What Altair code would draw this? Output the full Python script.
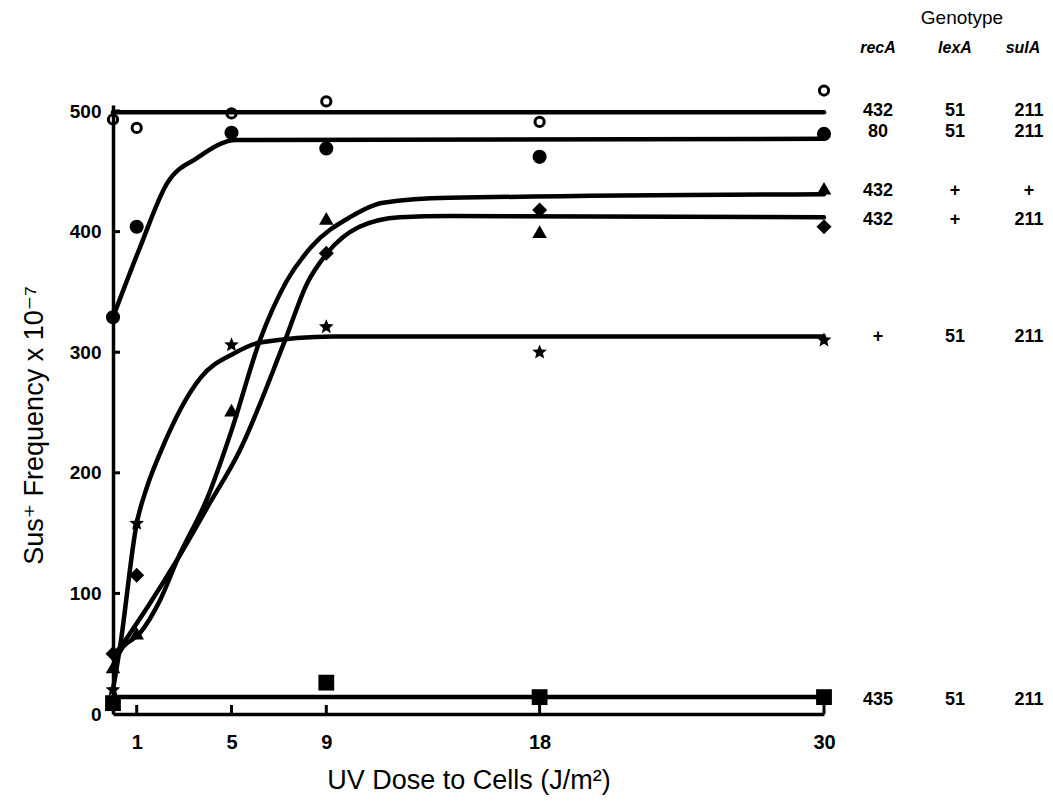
import altair as alt
import pandas as pd

# ---------------- data ----------------
# measured points (UV dose J/m^2, Sus+ frequency x 1e-7)
pt_dose_open = [0, 1, 5, 9, 18, 30]
pt_freq_open = [493, 486, 498, 508, 491, 517]

pt_dose_fill = [0, 1, 5, 9, 18, 30]
pt_freq_fill = [329, 404, 482, 469, 462, 481]

pt_dose_tri = [0, 1, 5, 9, 18, 30]
pt_freq_tri = [39, 67, 252, 411, 400, 436]

pt_dose_dia = [0, 1, 9, 18, 30]
pt_freq_dia = [50, 115, 382, 418, 404]

pt_dose_star = [0, 1, 5, 9, 18, 30]
pt_freq_star = [20, 158, 306, 321, 300, 310]

pt_dose_sq = [0, 9, 18, 30]
pt_freq_sq = [9, 26, 14, 14]

# hand-drawn fitted curves
cv_dose_open = [0, 30]
cv_freq_open = [499, 499]

cv_dose_fill = [0, 1.14, 2.28, 3.54, 5.2, 30]
cv_freq_fill = [329, 387, 440, 461, 476, 477]

cv_dose_tri = [0, 0.3, 1.14, 2, 2.74, 4, 5, 6.2, 7.3, 8.4, 10, 11.4, 14.2, 30]
cv_freq_tri = [39, 52, 67, 95, 129, 180, 235, 310, 358, 388, 412, 424, 428, 431]

cv_dose_dia = [0, 0.3, 0.72, 1.5, 2.74, 4, 5.36, 7.26, 8.19, 9.03, 10.4, 12.1, 14.2, 30]
cv_freq_dia = [50, 55, 67, 90, 129, 172, 219, 310, 357, 382, 404, 412, 413, 412]

cv_dose_star = [0, 0.3, 1, 1.43, 2, 3.7, 5.1, 6.2, 9.3, 30]
cv_freq_star = [20, 56, 158, 188, 217, 279, 299, 308, 313, 313]

cv_dose_sq = [0, 30]
cv_freq_sq = [14, 14]

# genotype table at the right
geno_recA = ["432", "80", "432", "432", "+", "435"]
geno_lexA = ["51", "51", "+", "+", "51", "51"]
geno_sulA = ["211", "211", "+", "211", "211", "211"]
geno_row_freq = [500, 483, 434, 410, 313, 12]

x_tick_values = [1, 5, 9, 18, 30]
y_tick_values = [0, 100, 200, 300, 400, 500]

# ---------------- build tables ----------------
series_names = ["open", "fill", "tri", "dia", "star", "sq"]
pts = {
    "open": (pt_dose_open, pt_freq_open), "fill": (pt_dose_fill, pt_freq_fill),
    "tri": (pt_dose_tri, pt_freq_tri), "dia": (pt_dose_dia, pt_freq_dia),
    "star": (pt_dose_star, pt_freq_star), "sq": (pt_dose_sq, pt_freq_sq),
}
cvs = {
    "open": (cv_dose_open, cv_freq_open), "fill": (cv_dose_fill, cv_freq_fill),
    "tri": (cv_dose_tri, cv_freq_tri), "dia": (cv_dose_dia, cv_freq_dia),
    "star": (cv_dose_star, cv_freq_star), "sq": (cv_dose_sq, cv_freq_sq),
}
pt_rows, cv_rows = [], []
for s in series_names:
    for d, f in zip(*pts[s]):
        pt_rows.append({"series": s, "dose": d, "freq": f})
    for i, (d, f) in enumerate(zip(*cvs[s])):
        cv_rows.append({"series": s, "dose": d, "freq": f, "order": i})
pt_df = pd.DataFrame(pt_rows)
cv_df = pd.DataFrame(cv_rows)
geno_df = pd.DataFrame({"freq": geno_row_freq, "recA": geno_recA,
                        "lexA": geno_lexA, "sulA": geno_sulA})

# ---------------- styling ----------------
W, H = 711, 609
FONT = "Liberation Sans, Arial, DejaVu Sans"
STAR = ("M0,-1L0.2645,-0.364L0.951,-0.309L0.428,0.139L0.588,0.809L0,0.45"
        "L-0.588,0.809L-0.428,0.139L-0.951,-0.309L-0.2645,-0.364Z")

x_scale = alt.Scale(domain=[0, 30], nice=False, zero=False)
y_scale = alt.Scale(domain=[0, 505], nice=False)

x_axis = alt.Axis(values=x_tick_values, title="UV Dose to Cells (J/m²)",
                  labelFont="Liberation Sans Narrow, Liberation Sans", labelFontSize=20,
                  labelFontWeight="bold", labelPadding=18, labelFlush=False,
                  ticks=False, grid=False, domainColor="black", domainWidth=3.5,
                  titleFont=FONT, titleFontSize=27, titleFontWeight="normal",
                  titleY=74, titleBaseline="alphabetic", labelColor="black",
                  titleColor="black")
y_axis = alt.Axis(values=y_tick_values, title="Sus⁺ Frequency x 10⁻⁷",
                  labelFont=FONT, labelFontSize=19, labelFontWeight="bold",
                  labelPadding=12, ticks=False, grid=False, domainColor="black",
                  domainWidth=3.5, titleFont=FONT, titleFontSize=27,
                  titleFontWeight="normal", titleX=-71, titleY=320,
                  titleBaseline="alphabetic", labelColor="black", titleColor="black")

X = alt.X("dose:Q", scale=x_scale, axis=x_axis)
Y = alt.Y("freq:Q", scale=y_scale, axis=y_axis)

lines = alt.Chart(cv_df).mark_line(color="black", strokeWidth=4.5,
                                   interpolate="monotone", strokeCap="round",
                                   strokeJoin="round").encode(
    x=X, y=Y, detail="series:N", order="order:Q")

tick_y = alt.Chart(pd.DataFrame({"freq": y_tick_values[1:]})).mark_rule(
    color="black", strokeWidth=3).encode(y=Y, x=alt.value(0), x2=alt.value(7))
tick_x = alt.Chart(pd.DataFrame({"dose": x_tick_values})).mark_rule(
    color="black", strokeWidth=3).encode(x=X, y=alt.value(H), y2=alt.value(H - 9))

pts_open = alt.Chart(pt_df[pt_df.series == "open"]).mark_point(
    shape="circle", filled=False, color="black", strokeWidth=3, size=85,
    opacity=1).encode(x=X, y=Y)

filled_names = ["fill", "tri", "dia", "star", "sq"]
pts_fill = alt.Chart(pt_df[pt_df.series != "open"]).mark_point(
    filled=True, color="black", opacity=1).encode(
    x=X, y=Y,
    shape=alt.Shape("series:N", scale=alt.Scale(
        domain=filled_names, range=["circle", "triangle-up", "diamond", STAR, "square"]),
        legend=None),
    size=alt.Size("series:N", scale=alt.Scale(
        domain=filled_names, range=[200, 250, 290, 400, 200]), legend=None),
)

COL_X = [765, 842, 916]
txt_style = dict(font=FONT, fontSize=18, fontWeight="bold", color="black",
                 align="center", baseline="middle")
col_recA = alt.Chart(geno_df).mark_text(**txt_style).encode(
    x=alt.value(COL_X[0]), y=Y, text="recA:N")
col_lexA = alt.Chart(geno_df).mark_text(**txt_style).encode(
    x=alt.value(COL_X[1]), y=Y, text="lexA:N")
col_sulA = alt.Chart(geno_df).mark_text(**txt_style).encode(
    x=alt.value(COL_X[2]), y=Y, text="sulA:N")

one = pd.DataFrame({"k": [0]})
hdr_style = dict(font=FONT, fontSize=16, fontWeight="bold", fontStyle="italic",
                 color="black", align="center", baseline="middle")
hdr_recA = alt.Chart(one).mark_text(text="recA", **hdr_style).encode(
    x=alt.value(COL_X[0]), y=alt.value(-57))
hdr_lexA = alt.Chart(one).mark_text(text="lexA", **hdr_style).encode(
    x=alt.value(COL_X[1]), y=alt.value(-57))
hdr_sulA = alt.Chart(one).mark_text(text="sulA", **hdr_style).encode(
    x=alt.value(COL_X[2] - 6), y=alt.value(-57))
hdr_geno = alt.Chart(one).mark_text(text="Genotype", font=FONT, fontSize=19,
                                    color="black", align="center",
                                    baseline="middle").encode(
    x=alt.value(849), y=alt.value(-87))

chart = alt.layer(
    lines, tick_y, tick_x, pts_open, pts_fill,
    col_recA, col_lexA, col_sulA, hdr_recA, hdr_lexA, hdr_sulA, hdr_geno,
).properties(
    width=W, height=H,
    padding={"left": 105, "top": 97, "right": 221, "bottom": 83},
    autosize="none", background="white",
).configure_view(strokeWidth=0)

chart.save("out.html", embed_options={"renderer": "svg", "actions": False})
